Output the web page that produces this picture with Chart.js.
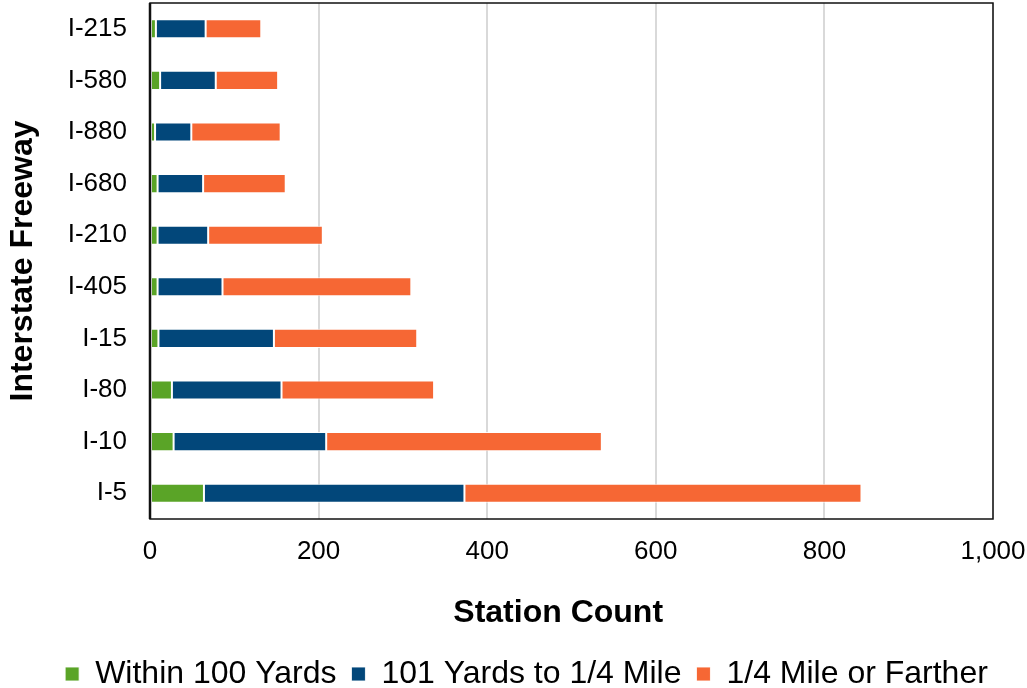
<!DOCTYPE html>
<html>
<head>
<meta charset="utf-8">
<script src="https://cdn.jsdelivr.net/npm/chart.js@4/dist/chart.umd.min.js"></script>
<style>
  html, body { margin: 0; padding: 0; background: #fff; overflow: hidden; }
  #wrap { width: 1027px; height: 688px; }
</style>
</head>
<body>
<div id="wrap"><canvas id="chart" width="1027" height="688"></canvas></div>
<script>
// Freeways, listed top to bottom
const freeways = ['I-215', 'I-580', 'I-880', 'I-680', 'I-210', 'I-405', 'I-15', 'I-80', 'I-10', 'I-5'];

// Station counts by distance from the freeway
const within100Yards    = [7, 12, 6, 9, 9, 9, 10, 26, 28, 64];
const yards101ToQuarter = [59, 66, 43, 54, 60, 77, 137, 130, 181, 309];
const quarterOrFarther  = [66, 74, 106, 98, 136, 224, 170, 181, 327, 471];

const seriesNames = ['Within 100 Yards', '101 Yards to 1/4 Mile', '1/4 Mile or Farther'];
const xTicks = [0, 200, 400, 600, 800, 1000];

const FONT = "'Liberation Sans', Arial, sans-serif";

// Outline around the plotting area, heavier along the category axis
const plotFrame = {
  id: 'plotFrame',
  afterDatasetsDraw(chart) {
    const { ctx, chartArea: a } = chart;
    ctx.save();
    ctx.strokeStyle = '#111';
    ctx.lineWidth = 1.5;
    ctx.strokeRect(a.left, a.top, a.right - a.left, a.bottom - a.top);
    ctx.lineWidth = 2.5;
    ctx.beginPath();
    ctx.moveTo(a.left, a.top);
    ctx.lineTo(a.left, a.bottom);
    ctx.stroke();
    ctx.restore();
  }
};

// Nudge the legend row a little to the right of the canvas centre
const legendShift = {
  id: 'legendShift',
  afterLayout(chart) {
    const lg = chart.legend;
    if (lg) { lg.left += 28; lg.right += 28; }
  }
};

new Chart(document.getElementById('chart'), {
  type: 'bar',
  data: {
    labels: freeways,
    datasets: [
      { label: seriesNames[0], data: within100Yards,    backgroundColor: '#5AA427' },
      { label: seriesNames[1], data: yards101ToQuarter, backgroundColor: '#02477A' },
      { label: seriesNames[2], data: quarterOrFarther,  backgroundColor: '#F66734' }
    ].map(d => Object.assign(d, {
      borderColor: 'rgba(255,255,255,0.85)',
      borderWidth: 1,
      borderSkipped: false,
      categoryPercentage: 1,
      barPercentage: 0.37
    }))
  },
  options: {
    indexAxis: 'y',
    responsive: false,
    animation: false,
    layout: { padding: { top: 3, right: 34, left: 4, bottom: -12 } },
    scales: {
      x: {
        stacked: true,
        min: 0,
        max: 1000,
        afterBuildTicks(scale) { scale.ticks = xTicks.map(v => ({ value: v })); },
        afterFit(scale) {
          scale.height = 124;
          scale.paddingLeft = 0;
          scale.paddingRight = 0;
        },
        grid: { color: '#d9d9d9', lineWidth: 2, drawTicks: false },
        border: { display: false },
        ticks: {
          color: '#000',
          font: { family: FONT, size: 26 },
          padding: 17,
          maxRotation: 0,
          callback: v => v.toLocaleString('en-US')
        },
        title: {
          display: true,
          text: 'Station Count   ',
          color: '#000',
          font: { family: FONT, size: 32, weight: 'bold' },
          padding: { top: 0, bottom: 11 }
        }
      },
      y: {
        stacked: true,
        afterFit(scale) {
          scale.width = 146;
          scale.paddingTop = 0;
          scale.paddingBottom = 0;
        },
        grid: { display: false, drawTicks: false },
        border: { display: false },
        ticks: {
          color: '#000',
          font: { family: FONT, size: 26 },
          padding: 23
        },
        title: {
          display: true,
          text: 'Interstate Freeway',
          color: '#000',
          font: { family: FONT, size: 32, weight: 'bold' },
          padding: { top: 0, bottom: 0 }
        }
      }
    },
    plugins: {
      legend: {
        position: 'bottom',
        labels: {
          color: '#000',
          font: { family: FONT, size: 32 },
          boxWidth: 14,
          boxHeight: 14,
          padding: 15
        }
      },
      tooltip: { enabled: false }
    }
  },
  plugins: [plotFrame, legendShift]
});
</script>
</body>
</html>
